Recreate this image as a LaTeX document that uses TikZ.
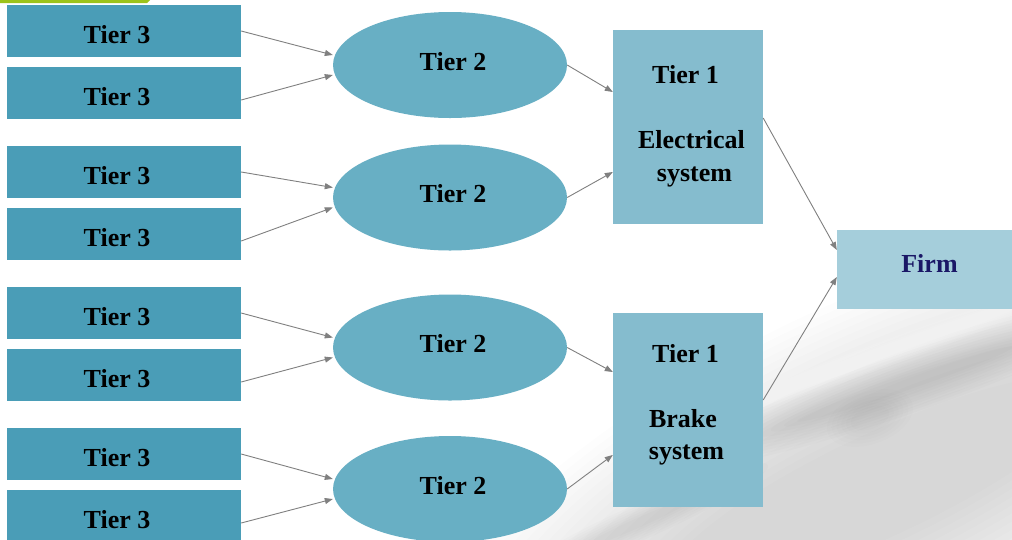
\documentclass[tikz,border=0pt]{standalone}
\usepackage{fontspec}
\setmainfont{Liberation Serif}
\usetikzlibrary{arrows.meta,shapes.geometric}

\definecolor{tierthree}{HTML}{4A9DB7}
\definecolor{tiertwo}{HTML}{68AFC4}
\definecolor{tierone}{HTML}{85BCCE}
\definecolor{firmfill}{HTML}{A5CEDB}
\definecolor{firmtext}{HTML}{1A1766}
\definecolor{linkgray}{HTML}{808080}
\definecolor{accent}{HTML}{9CC31A}

\begin{document}
\begin{tikzpicture}[x=1pt,y=-1pt,
  every node/.style={font=\fontsize{26}{32.5}\selectfont\bfseries, inner sep=0pt},
  tierthreebox/.style={fill=tierthree, minimum width=234pt, minimum height=52pt,
                       text height=24pt, text depth=0pt},
  tiertwoell/.style={ellipse, fill=tiertwo, minimum width=234pt, minimum height=106pt,
                     text height=17pt, text depth=7pt},
  tieronebox/.style={fill=tierone, minimum width=150pt, minimum height=194pt},
  tieronetext/.style={align=center},
  firmbox/.style={fill=firmfill, minimum width=185pt, minimum height=79pt,
                  text=firmtext, text height=17pt, text depth=11pt},
  link/.style={draw=linkgray, line width=0.9pt, -{Triangle[length=8pt,width=6pt]}},
  haze/.style={fill=black, opacity=0.008},
  gleam/.style={fill=white, opacity=0.07},
  shade/.style={fill=black, opacity=0.013}
]
\clip (0,0) rectangle (1012,539);
\fill[white] (0,0) rectangle (1012,539);

% soft grey sweep in the lower right
\foreach \k in {0,...,19} {
  \fill[haze, rotate around={25:(880,485)}] (880,485)
    ellipse [x radius={500-14*\k}, y radius={185-7*\k}];
}
% darker streak along the pen body
\foreach \k in {0,...,9} {
  \fill[shade, rotate around={19:(905,384)}] (905,384)
    ellipse [x radius={240-14*\k}, y radius={30-2.6*\k}];
}
% the clip of the pen
\foreach \k in {0,...,5} {
  \fill[fill=black, opacity=0.007, rotate around={20:(870,418)}] (870,418)
    ellipse [x radius={45-5*\k}, y radius={26-3*\k}];
}
% pale highlight above the darker streak
\foreach \k in {0,...,7} {
  \fill[gleam, rotate around={20:(890,352)}] (890,352)
    ellipse [x radius={230-16*\k}, y radius={13-1.5*\k}];
}
% faint streaks near the bottom edge
\foreach \k in {0,...,6} {
  \fill[shade, rotate around={24:(640,522)}] (640,522)
    ellipse [x radius={140-13*\k}, y radius={18-2.2*\k}];
}

% accent bar at the top
\fill[accent] (0,0) -- (150,0) -- (147,3) -- (0,3) -- cycle;

% tier 3 suppliers
\node[tierthreebox] (a1) at (124,31)  {Tier 3\kern14pt};
\node[tierthreebox] (a2) at (124,93)  {Tier 3\kern14pt};
\node[tierthreebox] (a3) at (124,172) {Tier 3\kern14pt};
\node[tierthreebox] (a4) at (124,234) {Tier 3\kern14pt};
\node[tierthreebox] (a5) at (124,313) {Tier 3\kern14pt};
\node[tierthreebox] (a6) at (124,375) {Tier 3\kern14pt};
\node[tierthreebox] (a7) at (124,454) {Tier 3\kern14pt};
\node[tierthreebox] (a8) at (124,516) {Tier 3\kern14pt};

% tier 2 suppliers
\node[tiertwoell] (e1) at (450,65)    {\kern6pt Tier 2};
\node[tiertwoell] (e2) at (450,197.5) {\kern6pt Tier 2};
\node[tiertwoell] (e3) at (450,347.5) {\kern6pt Tier 2};
\node[tiertwoell] (e4) at (450,489)   {\kern6pt Tier 2};

% tier 1 suppliers
\node[tieronebox] (t1a) at (688,126.5) {};
\node[tieronebox] (t1b) at (688,410) {};
\node[tieronetext] (t1atext) at (t1a.center)
  {\hbox{Tier 1\kern5pt}\\[32.5pt]\hbox{\kern7pt Electrical}\\\hbox{\kern13pt system}};
\node[tieronetext] (t1btext) at ([yshift=5pt]t1b.center)
  {\hbox{Tier 1\kern5pt}\\[32.5pt]\hbox{Brake\kern10pt}\\\hbox{system\kern3pt}};

% the firm
\node[firmbox] (firm) at (929.5,269.5) {Firm};

% supply links
\draw[link] (a1.east) -- ([yshift=10pt]e1.west);
\draw[link] ([yshift=-7pt]a2.east) -- ([yshift=-10pt]e1.west);
\draw[link] (a3.east) -- ([yshift=10pt]e2.west);
\draw[link] ([yshift=-7pt]a4.east) -- ([yshift=-10pt]e2.west);
\draw[link] (a5.east) -- ([yshift=10pt]e3.west);
\draw[link] ([yshift=-7pt]a6.east) -- ([yshift=-10pt]e3.west);
\draw[link] (a7.east) -- ([yshift=10pt]e4.west);
\draw[link] ([yshift=-7pt]a8.east) -- ([yshift=-10pt]e4.west);

\draw[link] (e1.east) -- ([yshift=34.5pt]t1a.west);
\draw[link] (e2.east) -- ([yshift=-45.5pt]t1a.west);
\draw[link] (e3.east) -- ([yshift=38pt]t1b.west);
\draw[link] (e4.east) -- ([yshift=-45pt]t1b.west);

\draw[link] ([yshift=8.5pt]t1a.east) -- ([yshift=19.5pt]firm.west);
\draw[link] ([yshift=10pt]t1b.east) -- ([yshift=-7.5pt]firm.west);
\end{tikzpicture}
\end{document}
